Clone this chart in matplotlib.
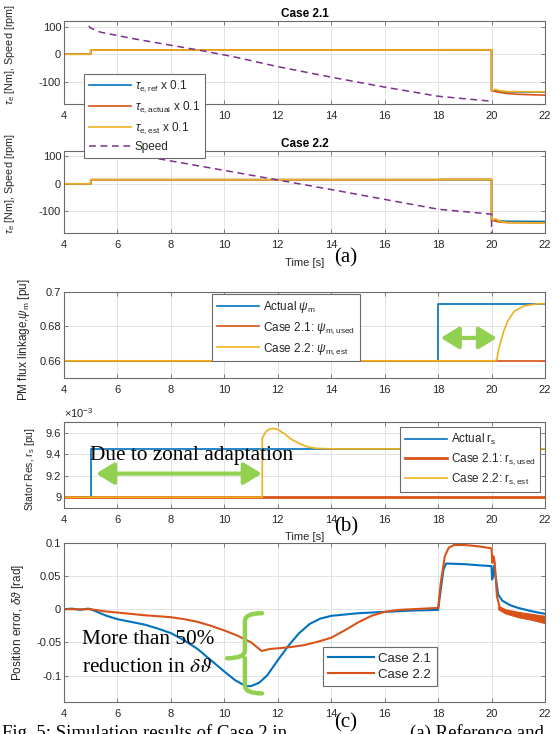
import numpy as np
import matplotlib
matplotlib.use('Agg')
import matplotlib.pyplot as plt
from matplotlib.path import Path
from matplotlib.patches import PathPatch

plt.rcParams['font.family'] = ['Liberation Sans', 'DejaVu Sans']
plt.rcParams['mathtext.fontset'] = 'custom'
plt.rcParams['mathtext.rm'] = 'Liberation Sans'
plt.rcParams['mathtext.it'] = 'Liberation Sans:italic'
plt.rcParams['mathtext.bf'] = 'Liberation Sans:bold'
plt.rcParams['axes.unicode_minus'] = False

# ---------------- data ----------------
# torque x 0.1, case 2.1
t_ref21 = [4, 5, 5, 20, 20, 20.5, 22]
ref21 = [0, 0, 15, 15, -132, -136, -137]
t_act21 = [4, 5, 5, 18, 18.1, 20, 20, 20.3, 20.6, 21, 22]
act21 = [0, 0, 15, 15, 16, 16, -132, -138, -142, -145, -148]
t_est21 = [4, 5, 5, 18, 18.1, 20, 20, 20.15, 20.3, 20.6, 22]
est21 = [0, 0, 15, 15, 15.5, 15.5, -132, -127, -132, -135, -136]
t_spd21 = [4.75, 4.97, 5.35, 6.6, 7.84, 9.09, 10.34, 12.0, 14.0, 16.0, 18.0, 20.0]
spd21 = [140, 96, 80, 56, 35, 14, -9, -45, -83, -119, -152, -170]

# torque x 0.1, case 2.2
t_ref22 = [4, 5, 5, 20, 20, 20.5, 22]
ref22 = [0, 0, 15, 15, -133, -137, -138]
t_act22 = [4, 5, 5, 18, 18.1, 20, 20, 20.3, 20.6, 22]
act22 = [0, 0, 15, 15, 16, 16, -133, -140, -142, -143]
t_est22 = [4, 5, 5, 18, 18.1, 20, 20, 20.15, 20.3, 20.6, 22]
est22 = [0, 0, 15, 15, 15.5, 15.5, -133, -128, -137, -142, -143]
t_spd22 = [5.0, 7.34, 10.0, 12.0, 14.0, 16.0, 18.0, 20.0, 20.0]
spd22 = [135, 95, 49, 14, -21, -57, -93, -111, -260]

# PM flux linkage [pu]
t_psi_act = [4, 18, 18, 22]
psi_act = [0.66, 0.66, 0.693, 0.693]
t_psi_used = [4, 22]
psi_used = [0.66, 0.66]
t_psi_est = [4, 20.15, 20.2, 20.27, 20.34, 20.45, 20.6, 20.85, 21.22, 21.72, 22]
psi_est = [0.66, 0.66, 0.661, 0.667, 0.6707, 0.677, 0.683, 0.6888, 0.692, 0.6931, 0.6932]

# stator resistance [x1e-3 pu]
t_rs_act = [4, 5, 5, 22]
rs_act = [9.0, 9.0, 9.45, 9.45]
t_rs_used = [4, 22]
rs_used = [9.0, 9.0]
t_rs_est = [4, 11.42, 11.42, 11.55, 11.7, 11.85, 12.0, 12.25, 12.5, 12.8, 13.1, 13.4, 14.0, 22]
rs_est = [9.0, 9.0, 9.55, 9.61, 9.635, 9.64, 9.63, 9.59, 9.54, 9.5, 9.47, 9.455, 9.45, 9.45]

# position error [rad]
t_pe21 = [4.0, 4.3, 4.6, 4.9, 5.0, 5.3, 5.6, 6.0, 6.5, 7.0, 7.5, 8.0, 8.5, 9.0, 9.5,
          10.0, 10.4, 10.8, 11.0, 11.3, 11.6, 12.0, 12.4, 12.8, 13.2, 13.6, 14.0,
          15.0, 16.0, 17.0, 18.0, 18.1, 18.2, 18.3, 19.0, 20.0, 20.02, 20.06, 20.1,
          20.15, 20.25, 20.4, 20.7, 21.0, 21.5, 22.0]
pe21 = [0, 0.001, -0.001, 0.001, 0, -0.005, -0.01, -0.015, -0.019, -0.023, -0.029,
        -0.036, -0.047, -0.06, -0.077, -0.094, -0.107, -0.116, -0.116, -0.111, -0.1,
        -0.077, -0.055, -0.036, -0.022, -0.014, -0.01, -0.006, -0.004, -0.002, -0.001,
        0.03, 0.06, 0.069, 0.068, 0.065, 0.045, 0.05, 0.066, 0.05, 0.022, 0.013,
        0.006, 0.002, -0.003, -0.007]
t_pe22 = [4.0, 5.0, 5.5, 6.0, 7.0, 8.0, 8.5, 9.0, 9.5, 10.0, 10.5, 11.0, 11.4, 11.7,
          12.0, 12.5, 13.0, 13.5, 14.0, 14.5, 15.0, 15.5, 16.0, 16.5, 17.0, 18.0,
          18.1, 18.25, 18.4, 18.6, 19.0, 19.5, 20.0, 20.03, 20.08, 20.12, 20.2, 20.3,
          20.6, 21.0, 21.5, 22.0]
pe22 = [0, 0, -0.003, -0.005, -0.009, -0.012, -0.015, -0.019, -0.025, -0.032, -0.04,
        -0.05, -0.063, -0.06, -0.059, -0.057, -0.054, -0.049, -0.043, -0.032, -0.02,
        -0.01, -0.004, -0.001, 0.0, 0.002, 0.04, 0.08, 0.093, 0.097, 0.097, 0.095,
        0.092, 0.07, 0.08, 0.07, 0.02, 0.003, -0.003, -0.008, -0.012, -0.016]
# oscillation band of case 2.2 after t = 20
t_band = [20.25, 20.5, 21.0, 21.5, 22.0]
band_hi = [0.004, 0.0, -0.004, -0.007, -0.01]
band_lo = [0.0, -0.006, -0.012, -0.016, -0.021]

xticks = [4, 6, 8, 10, 12, 14, 16, 18, 20, 22]

# ---------------- styling ----------------
C_BLUE = '#0072BD'
C_RED = '#D95319'
C_YEL = '#EDB120'
C_PUR = '#7E2F8E'
C_GRN = '#92D050'
TXT = '#262626'
SERIF = ['Liberation Serif', 'DejaVu Serif']

fig = plt.figure(figsize=(5.59, 7.34), dpi=100)
W, H = 559.0, 734.0


def px_axes(top, bottom, left=64, right=545):
    return fig.add_axes([left / W, 1 - bottom / H, (right - left) / W, (bottom - top) / H])


def style(ax):
    ax.set_xlim(4, 22)
    ax.set_xticks(xticks)
    ax.grid(True, color='#e3e3e3', lw=0.7)
    ax.set_axisbelow(True)
    for s in ax.spines.values():
        s.set_color('#6b6b6b')
        s.set_linewidth(0.8)
    ax.tick_params(direction='in', top=True, right=True, length=3, width=0.6,
                   color='#6b6b6b', labelcolor=TXT, labelsize=8)
    ax.tick_params(axis='x', pad=5)
    ax.tick_params(axis='y', pad=2)


def leg(handles, labels, left, top, fs=8, spacing=0.6, hl=3.6):
    lg = fig.legend(handles, labels, loc='upper left',
                    bbox_to_anchor=(left / W, 1 - top / H), bbox_transform=fig.transFigure,
                    borderaxespad=0, fontsize=fs, labelspacing=spacing, handlelength=hl,
                    handletextpad=0.3, borderpad=0.4, fancybox=False, framealpha=1,
                    edgecolor='#6b6b6b')
    lg.get_frame().set_linewidth(0.8)
    for t in lg.get_texts():
        t.set_color(TXT)
    return lg


# ---------- panel (a): case 2.1 ----------
ax1 = px_axes(21, 104)
style(ax1)
h1, = ax1.plot(t_ref21, ref21, color=C_BLUE, lw=1.2)
h2, = ax1.plot(t_act21, act21, color=C_RED, lw=1.2)
h3, = ax1.plot(t_est21, est21, color=C_YEL, lw=1.2)
h4, = ax1.plot(t_spd21, spd21, color=C_PUR, lw=1.1, ls=(0, (4.5, 3)))
ax1.set_ylim(-180, 120)
ax1.set_yticks([-100, 0, 100])
ax1.set_title('Case 2.1', fontsize=8.5, fontweight='bold', color='k', pad=3)
ax1.set_ylabel(r'$\tau_{\rm e}$ [Nm], Speed [rpm]', fontsize=7.8, color=TXT)
ax1.yaxis.set_label_coords(-0.097, 0.6)

# ---------- panel (a): case 2.2 ----------
ax2 = px_axes(151, 233)
style(ax2)
ax2.plot(t_ref22, ref22, color=C_BLUE, lw=1.2)
ax2.plot(t_act22, act22, color=C_RED, lw=1.2)
ax2.plot(t_est22, est22, color=C_YEL, lw=1.2)
ax2.plot(t_spd22, spd22, color=C_PUR, lw=1.1, ls=(0, (4.5, 3)))
ax2.set_ylim(-180, 120)
ax2.set_yticks([-100, 0, 100])
ax2.set_title('Case 2.2', fontsize=8.5, fontweight='bold', color='k', pad=3)
ax2.set_ylabel(r'$\tau_{\rm e}$ [Nm], Speed [rpm]', fontsize=7.8, color=TXT)
ax2.yaxis.set_label_coords(-0.097, 0.6)
ax2.set_xlabel('Time [s]', fontsize=8, color=TXT)
ax2.xaxis.set_label_coords(0.5, -0.3)

leg([h1, h2, h3, h4],
    [r'$\tau_{\rm e,ref}$ x 0.1', r'$\tau_{\rm e,actual}$ x 0.1',
     r'$\tau_{\rm e,est}$ x 0.1', 'Speed'],
    84, 74, fs=8.5, spacing=0.45)

# ---------- panel (b): PM flux ----------
ax3 = px_axes(292, 378)
style(ax3)
g1, = ax3.plot(t_psi_act, psi_act, color=C_BLUE, lw=1.2)
g2, = ax3.plot(t_psi_used, psi_used, color=C_RED, lw=1.2)
g3, = ax3.plot(t_psi_est, psi_est, color=C_YEL, lw=1.2)
ax3.set_ylim(0.65, 0.70)
ax3.set_yticks([0.66, 0.68, 0.70])
ax3.set_yticklabels(['0.66', '0.68', '0.7'])
ax3.set_ylabel(r'PM flux linkage,$\psi_{\rm m}$ [pu]', fontsize=8.5, color=TXT)
ax3.yaxis.set_label_coords(-0.066, 0.45)
leg([g1, g2, g3],
    [r'Actual $\psi_{\rm m}$', r'Case 2.1: $\psi_{\rm m,used}$', r'Case 2.2: $\psi_{\rm m,est}$'],
    212, 294, fs=8.5, spacing=0.45)
ax3.annotate('', xy=(18.1, 0.6733), xytext=(20.2, 0.6733),
             arrowprops=dict(arrowstyle='<|-|>,head_length=0.9,head_width=0.55',
                             color=C_GRN, lw=3, mutation_scale=12, shrinkA=0, shrinkB=0))

# ---------- panel (b): stator resistance ----------
ax4 = px_axes(422, 508)
style(ax4)
k1, = ax4.plot(t_rs_act, rs_act, color=C_BLUE, lw=1.2)
k2, = ax4.plot(t_rs_used, rs_used, color=C_RED, lw=2.0)
k3, = ax4.plot(t_rs_est, rs_est, color=C_YEL, lw=1.2)
ax4.set_ylim(8.9, 9.7)
ax4.set_yticks([9.0, 9.2, 9.4, 9.6])
ax4.set_yticklabels(['9', '9.2', '9.4', '9.6'])
ax4.text(0.0, 1.02, r'$\times10^{-3}$', transform=ax4.transAxes, fontsize=8, color=TXT,
         va='bottom', ha='left')
ax4.set_ylabel(r'Stator Res, r$_{\rm s}$ [pu]', fontsize=7.5, color=TXT)
ax4.yaxis.set_label_coords(-0.056, 0.45)
ax4.set_xlabel('Time [s]', fontsize=8, color=TXT)
ax4.xaxis.set_label_coords(0.5, -0.28)
leg([k1, k2, k3],
    [r'Actual r$_{\rm s}$', r'Case 2.1: r$_{\rm s,used}$', r'Case 2.2: r$_{\rm s,est}$'],
    400, 427, fs=8.5, spacing=0.4)
ax4.annotate('', xy=(5.2, 9.22), xytext=(11.4, 9.22),
             arrowprops=dict(arrowstyle='<|-|>,head_length=0.9,head_width=0.55',
                             color=C_GRN, lw=3, mutation_scale=12, shrinkA=0, shrinkB=0))
fig.text(90 / W, 1 - 456 / H, 'Due to zonal adaptation', family=SERIF, fontsize=15.3,
         color='k', va='center', ha='left')

# ---------- panel (c): position error ----------
ax5 = px_axes(543, 702)
style(ax5)
p1, = ax5.plot(t_pe21, pe21, color=C_BLUE, lw=1.5)
p2, = ax5.plot(t_pe22, pe22, color=C_RED, lw=1.5)
ax5.fill_between(t_band, band_lo, band_hi, color=C_RED, lw=0.8)
ax5.set_ylim(-0.14, 0.1)
ax5.set_yticks([-0.1, -0.05, 0, 0.05, 0.1])
ax5.set_yticklabels(['-0.1', '-0.05', '0', '0.05', '0.1'])
ax5.set_ylabel(r'Position error, $\delta\vartheta$ [rad]', fontsize=8.5, color=TXT)
ax5.yaxis.set_label_coords(-0.079, 0.5)
lg5 = leg([p1, p2], ['Case 2.1', 'Case 2.2'], 323, 647, fs=9.5, spacing=0.3, hl=3.5)
for ln in lg5.get_lines():
    ln.set_linewidth(1.5)

# curly brace
xs_tip, xs_sp, xs_end = 10.1, 10.77, 11.41
y_top, y_mid, y_bot = -0.006, -0.074, -0.127
r = 0.012
verts = [(xs_end, y_top), (xs_sp, y_top), (xs_sp, y_top - r), (xs_sp, y_mid + r),
         (xs_sp, y_mid), (xs_tip, y_mid),
         (xs_sp, y_mid), (xs_sp, y_mid - r), (xs_sp, y_bot + r),
         (xs_sp, y_bot), (xs_end, y_bot)]
codes = [Path.MOVETO, Path.CURVE3, Path.CURVE3, Path.LINETO, Path.CURVE3, Path.CURVE3,
         Path.MOVETO, Path.CURVE3, Path.LINETO, Path.CURVE3, Path.CURVE3]
ax5.add_patch(PathPatch(Path(verts, codes), fill=False, edgecolor=C_GRN, lw=3.2,
                        capstyle='round', joinstyle='round', zorder=5))

fig.text(82 / W, 1 - 640 / H, 'More than 50%', family=SERIF, fontsize=15.3, color='k',
         va='center', ha='left')
fig.text(82 / W, 1 - 668 / H, r'reduction in $\delta\vartheta$', family=SERIF, fontsize=15.3,
         color='k', va='center', ha='left', math_fontfamily='stix')

# ---------- sub-figure tags and caption ----------
for tag, yy in [('(a)', 258), ('(b)', 527), ('(c)', 723)]:
    fig.text(346 / W, 1 - yy / H, tag, family=SERIF, fontsize=15, color='k',
             ha='center', va='center')
fig.text(2 / W, 1 - 733 / H, 'Fig. 5: Simulation results of Case 2 in',
         family=SERIF, fontsize=13.5, color='k', ha='left', va='center')
fig.text(410 / W, 1 - 733 / H, '(a) Reference and',
         family=SERIF, fontsize=13.5, color='k', ha='left', va='center')

fig.savefig('out.png', dpi=100, facecolor='white')
